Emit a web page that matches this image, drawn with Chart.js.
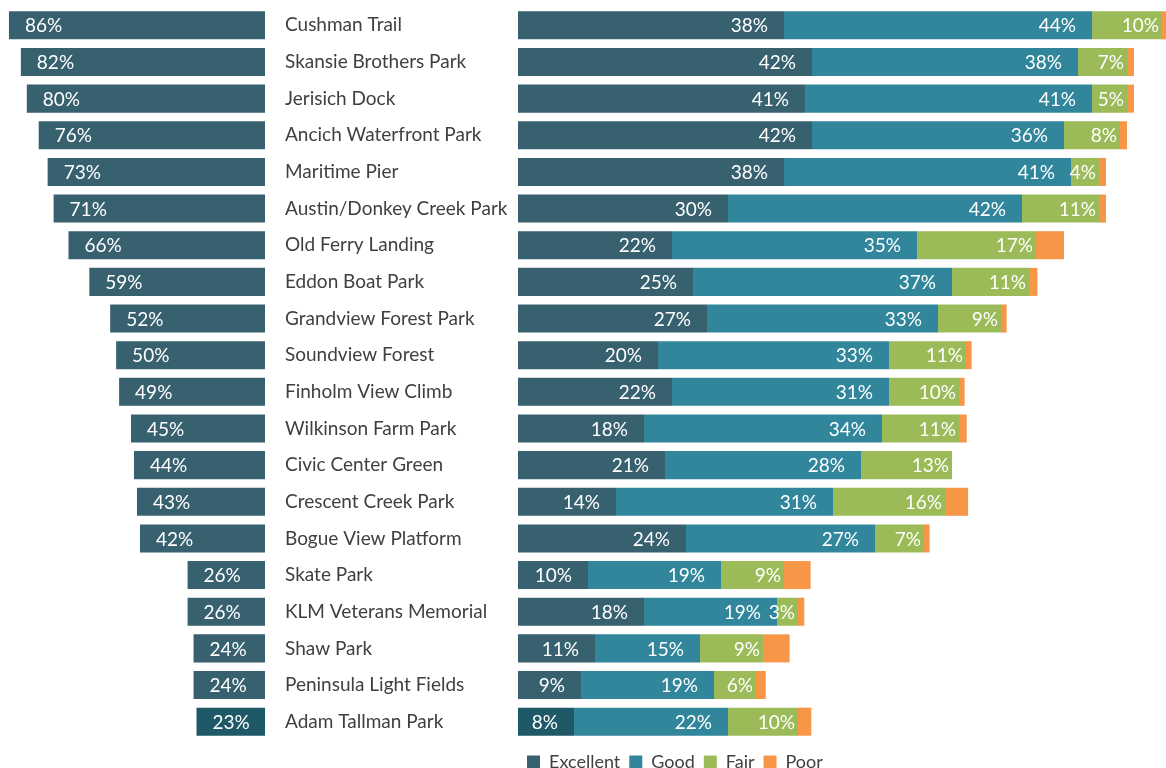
<!DOCTYPE html>
<html>
<head>
<meta charset="utf-8">
<script src="https://cdn.jsdelivr.net/npm/chart.js@4.4.1/dist/chart.umd.min.js"></script>
<style>
  html, body { margin: 0; padding: 0; background: #fff; overflow: hidden; }
  #wrap { position: relative; width: 1166px; height: 768px; }
  #leftChart { position: absolute; left: 0; top: 0; }
  #rightChart { position: absolute; left: 285px; top: 0; }
</style>
</head>
<body>
<div id="wrap">
  <canvas id="leftChart" width="265" height="740"></canvas>
  <canvas id="rightChart" width="881" height="781"></canvas>
</div>
<script>
// Park names, top to bottom
var parks = ['Cushman Trail', 'Skansie Brothers Park', 'Jerisich Dock', 'Ancich Waterfront Park',
  'Maritime Pier', 'Austin/Donkey Creek Park', 'Old Ferry Landing', 'Eddon Boat Park',
  'Grandview Forest Park', 'Soundview Forest', 'Finholm View Climb', 'Wilkinson Farm Park',
  'Civic Center Green', 'Crescent Creek Park', 'Bogue View Platform', 'Skate Park',
  'KLM Veterans Memorial', 'Shaw Park', 'Peninsula Light Fields', 'Adam Tallman Park'];

// Share of respondents who visited (left bars)
var visited = [86, 82, 80, 76, 73, 71, 66, 59, 52, 50, 49, 45, 44, 43, 42, 26, 26, 24, 24, 23];

// Ratings (right stacked bars)
var excellent = [38, 42, 41, 42, 38, 30, 22, 25, 27, 20, 22, 18, 21, 14, 24, 10, 18, 11, 9, 8];
var good      = [44, 38, 41, 36, 41, 42, 35, 37, 33, 33, 31, 34, 28, 31, 27, 19, 19, 15, 19, 22];
var fair      = [10, 7, 5, 8, 4, 11, 17, 11, 9, 11, 10, 11, 13, 16, 7, 9, 3, 9, 6, 10];
var poor      = [0.6, 1, 1, 1, 1, 1, 4, 1.2, 0.8, 0.8, 0.8, 1.1, 0, 3.3, 0.8, 3.8, 0.9, 3.8, 1.4, 1.9];

var FONT = 'Lato, "Open Sans", sans-serif';
var DARK = '#386170';
var HIGHLIGHT = '#1f5867';
var last = parks.length - 1;

function darkColor(c) {
    return c.dataIndex === last ? HIGHLIGHT : DARK;
}

// Draws the white percentage labels inside the bars
var barLabels = {
    id: 'barLabels',
    afterDatasetsDraw: function(chart) {
        var ctx = chart.ctx;
        ctx.save();
        ctx.font = '19px ' + FONT;
        ctx.fillStyle = '#ffffff';
        ctx.textBaseline = 'middle';
        chart.data.datasets.forEach(function(ds, i) {
            if (!ds.labelMode) return;
            chart.getDatasetMeta(i).data.forEach(function(bar, j) {
                var v = ds.data[j];
                if (!v) return;
                var text = Math.round(v) + '%';
                var left = Math.min(bar.x, bar.base);
                var right = Math.max(bar.x, bar.base);
                if (ds.labelMode === 'start') {
                    ctx.textAlign = 'left';
                    ctx.fillText(text, left + 16, bar.y + 1);
                } else {
                    ctx.textAlign = 'right';
                    ctx.fillText(text, right - ds.labelPad, bar.y + 1);
                }
            });
        });
        ctx.restore();
    }
};

Chart.defaults.font.family = FONT;
Chart.defaults.color = '#404040';

new Chart(document.getElementById('leftChart'), {
    type: 'bar',
    data: {
        labels: parks,
        datasets: [{
            label: 'Visited',
            data: visited,
            backgroundColor: darkColor,
            barPercentage: 0.765,
            categoryPercentage: 1,
            labelMode: 'start'
        }]
    },
    options: {
        indexAxis: 'y',
        responsive: false,
        animation: false,
        layout: { padding: { top: 7, bottom: 0, left: 0, right: 0 } },
        scales: {
            x: { display: false, reverse: true, min: 0, max: 89 },
            y: { display: false }
        },
        plugins: { legend: { display: false }, tooltip: { enabled: false } }
    },
    plugins: [barLabels]
});

new Chart(document.getElementById('rightChart'), {
    type: 'bar',
    data: {
        labels: parks,
        datasets: [
            { label: 'Excellent', data: excellent, backgroundColor: darkColor, labelMode: 'end', labelPad: 16 },
            { label: 'Good', data: good, backgroundColor: '#31869b', labelMode: 'end', labelPad: 16 },
            { label: 'Fair', data: fair, backgroundColor: '#9bbb59', labelMode: 'end', labelPad: 3 },
            { label: 'Poor', data: poor, backgroundColor: '#f79646' }
        ].map(function(ds) {
            ds.barPercentage = 0.765;
            ds.categoryPercentage = 1;
            return ds;
        })
    },
    options: {
        indexAxis: 'y',
        responsive: false,
        animation: false,
        layout: { padding: { top: 7, bottom: 0, left: 0, right: 0 } },
        scales: {
            x: { display: false, stacked: true, min: 0, max: 92.57 },
            y: {
                stacked: true,
                grid: { display: false },
                border: { display: false },
                ticks: {
                    autoSkip: false,
                    crossAlign: 'far',
                    padding: 0,
                    color: '#404040',
                    font: { size: 19, lineHeight: 0.7 }
                },
                afterFit: function(scale) { scale.width = 233; }
            }
        },
        plugins: {
            tooltip: { enabled: false },
            legend: {
                position: 'bottom',
                align: 'start',
                fullSize: false,
                // empty title only adds a little space above the legend row
                title: { display: true, text: '', font: { size: 1, lineHeight: 1 }, padding: { top: 3, bottom: 0 } },
                labels: {
                    boxWidth: 13,
                    boxHeight: 13,
                    padding: 9,
                    color: '#404040',
                    font: { size: 18 }
                }
            }
        }
    },
    plugins: [barLabels]
});
</script>
</body>
</html>
